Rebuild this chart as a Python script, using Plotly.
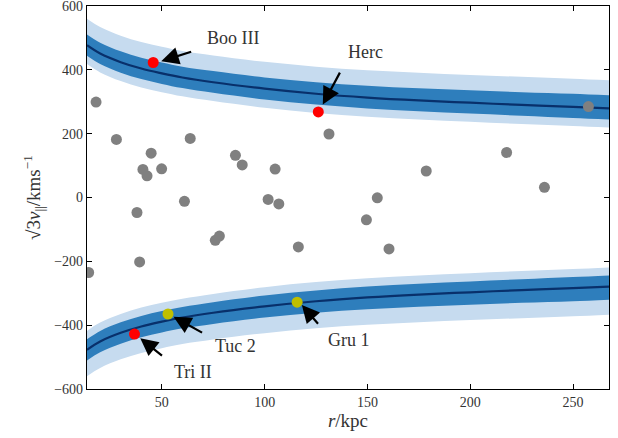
import plotly.graph_objects as go

# ---- data ----
r_curve = [13.6, 20, 30, 40, 50, 60, 75, 100, 125, 150, 175, 200, 225, 250, 267.5]
v_mean = [477, 451, 424, 404, 389, 376, 361, 341, 325, 313, 304, 297, 290, 284, 279]
v_dark_hi = [511, 485, 458, 438, 423, 410, 396, 376, 361, 350, 342, 336, 330, 325, 320]
v_dark_lo = [444, 418, 391, 371, 356, 343, 328, 307, 291, 279, 270, 263, 256, 249, 244]
v_light_hi = [560, 534, 507, 487, 472, 459, 445, 425, 410, 399, 391, 384, 378, 372, 367]
v_light_lo = [418, 392, 365, 345, 330, 317, 302, 281, 265, 253, 244, 237, 230, 224, 219]

gray_r = [18.0, 27.9, 44.8, 40.8, 42.8, 49.9, 63.8, 85.8, 89.1, 105.1, 61.0, 101.7, 106.9,
          37.9, 131.3, 217.7, 178.6, 236.1, 154.8, 149.5, 257.5, 14.4, 39.2, 76.0, 78.0,
          116.4, 160.5]
gray_v = [299, 182, 139, 88, 68, 90, 185, 132, 102, 89, -12, -6, -20,
          -47, 199, 141, 83, 32, -1, -70, 285, -235, -202, -134, -121,
          -155, -161]

red_names = ["Boo III", "Herc", "Tri II"]
red_r = [45.8, 126.1, 36.7]
red_v = [423, 268, -428]

yellow_names = ["Tuc 2", "Gru 1"]
yellow_r = [53.0, 115.8]
yellow_v = [-365, -328]

x_ticks = [50, 100, 150, 200, 250]
y_ticks = [-600, -400, -200, 0, 200, 400, 600]

LIGHT = "#c6dbef"
DARK = "#2e7ebc"
NAVY = "#08306b"

fig = go.Figure()


def band(lo, hi, color):
    fig.add_trace(go.Scatter(x=r_curve, y=lo, mode="lines", line=dict(width=0, shape="spline"),
                             hoverinfo="skip", showlegend=False))
    fig.add_trace(go.Scatter(x=r_curve, y=hi, mode="lines", line=dict(width=0, shape="spline"),
                             fill="tonexty", fillcolor=color, hoverinfo="skip", showlegend=False))


neg = lambda a: [-v for v in a]

# upper envelope
band(v_light_lo, v_light_hi, LIGHT)
band(v_dark_lo, v_dark_hi, DARK)
fig.add_trace(go.Scatter(x=r_curve, y=v_mean, mode="lines",
                         line=dict(color=NAVY, width=2.2, shape="spline"), showlegend=False))
# lower envelope (mirror)
band(neg(v_light_hi), neg(v_light_lo), LIGHT)
band(neg(v_dark_hi), neg(v_dark_lo), DARK)
fig.add_trace(go.Scatter(x=r_curve, y=neg(v_mean), mode="lines",
                         line=dict(color=NAVY, width=2.2, shape="spline"), showlegend=False))

fig.add_trace(go.Scatter(x=gray_r, y=gray_v, mode="markers",
                         marker=dict(color="#808080", size=11, line=dict(width=0)), showlegend=False))
fig.add_trace(go.Scatter(x=red_r, y=red_v, mode="markers", text=red_names,
                         marker=dict(color="#ff0000", size=11, line=dict(width=0)), showlegend=False))
fig.add_trace(go.Scatter(x=yellow_r, y=yellow_v, mode="markers", text=yellow_names,
                         marker=dict(color="#bfbf00", size=11, line=dict(width=0)), showlegend=False))

# annotations: (label, head x, head y, tail x, tail y, text x, text y)
annots = [
    ("Boo III", 49.7, 427, 65.0, 458, 84.8, 500),
    ("Herc", 128.3, 291, 137.0, 396, 149.3, 456),
    ("Tuc 2", 55.7, -374, 70.3, -426, 85.7, -465),
    ("Tri II", 39.5, -441, 50.8, -499, 65.1, -546),
    ("Gru 1", 118.1, -337, 126.6, -400, 141.2, -447),
]
FONT = "Liberation Serif, DejaVu Serif, serif"
for name, hx, hy, tx, ty, lx, ly in annots:
    fig.add_annotation(x=hx, y=hy, ax=tx, ay=ty, xref="x", yref="y", axref="x", ayref="y",
                       text="", showarrow=True, arrowhead=2, arrowsize=1.6, arrowwidth=2.2,
                       arrowcolor="black", standoff=0, startstandoff=0)
    fig.add_annotation(x=lx, y=ly, xref="x", yref="y", text=name, showarrow=False,
                       font=dict(family=FONT, size=18, color="#333333"))

axis_common = dict(showgrid=False, zeroline=False, showline=True, linecolor="black", linewidth=1.2,
                   mirror="allticks", ticks="inside", ticklen=5, tickcolor="black", tickwidth=1,
                   automargin=False, ticklabeloverflow="allow",
                   tickfont=dict(family=FONT, size=14, color="#333333"))
fig.update_xaxes(range=[13.6, 267.5], tickvals=x_ticks,
                 title=dict(text="<i>r</i>/kpc", font=dict(family=FONT, size=19, color="#333333"),
                            standoff=2),
                 **axis_common)
fig.update_yaxes(range=[-600, 600], tickvals=y_ticks,
                 title=dict(text="√3<i>v</i><sub>||</sub>/kms<sup>−1</sup>",
                            font=dict(family=FONT, size=19, color="#333333"), standoff=8),
                 **axis_common)

fig.update_layout(width=618, height=438, margin=dict(l=87, r=9, t=6, b=49),
                  plot_bgcolor="white", paper_bgcolor="white", showlegend=False)

fig.write_html("out.html", config={"displayModeBar": False},
               post_script="document.body.style.margin='0';document.body.style.padding='0';")
